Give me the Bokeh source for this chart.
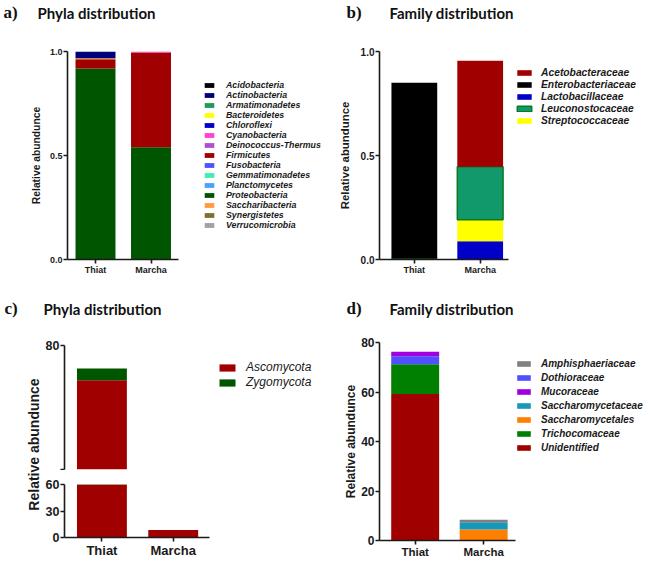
import math
from bokeh.plotting import figure
from bokeh.models import ColumnDataSource, Legend, LegendItem, FixedTicker, Label, Range1d
from bokeh.layouts import row, column
from bokeh.embed import file_html
from bokeh.resources import INLINE

samples = ["Thiat", "Marcha"]

# a) Phyla distribution (bacteria), relative abundance
phyla_a = ["Acidobacteria", "Actinobacteria", "Armatimonadetes", "Bacteroidetes", "Chloroflexi",
           "Cyanobacteria", "Deinococcus-Thermus", "Firmicutes", "Fusobacteria", "Gemmatimonadetes",
           "Planctomycetes", "Proteobacteria", "Saccharibacteria", "Synergistetes", "Verrucomicrobia"]
phyla_a_colors = ["#000000", "#00007a", "#1f9a5a", "#ffff00", "#0000c8",
                  "#ff40d0", "#b050d0", "#a00000", "#5050ff", "#40eeb0",
                  "#4ca0ff", "#005500", "#ff9a40", "#807030", "#a0a0a8"]
a_thiat = [0, 0.033, 0, 0, 0, 0, 0, 0.045, 0, 0, 0, 0.918, 0.004, 0, 0]
a_marcha = [0, 0, 0, 0, 0, 0.005, 0, 0.455, 0, 0, 0, 0.540, 0, 0, 0]
a_stack = ["Proteobacteria", "Firmicutes", "Saccharibacteria", "Cyanobacteria", "Actinobacteria",
           "Acidobacteria", "Armatimonadetes", "Bacteroidetes", "Chloroflexi", "Deinococcus-Thermus",
           "Fusobacteria", "Gemmatimonadetes", "Planctomycetes", "Synergistetes", "Verrucomicrobia"]

# b) Family distribution (bacteria)
fam_b = ["Acetobacteraceae", "Enterobacteriaceae", "Lactobacillaceae", "Leuconostocaceae", "Streptococcaceae"]
fam_b_colors = ["#a00000", "#000000", "#0000c8", "#12996b", "#ffff00"]
b_thiat = [0, 0.845, 0, 0, 0.005]
b_marcha = [0.510, 0, 0.088, 0.255, 0.103]
b_stack = ["Lactobacillaceae", "Streptococcaceae", "Leuconostocaceae", "Enterobacteriaceae", "Acetobacteraceae"]

# c) Phyla distribution (fungi), broken axis
phyla_c = ["Ascomycota", "Zygomycota"]
phyla_c_colors = ["#a00000", "#005500"]
c_thiat = [74.4, 1.9]
c_marcha = [8.4, 0]

# d) Family distribution (fungi)
fam_d = ["Amphisphaeriaceae", "Dothioraceae", "Mucoraceae", "Saccharomycetaceae",
         "Saccharomycetales", "Trichocomaceae", "Unidentified"]
fam_d_colors = ["#808080", "#5050ff", "#a000e0", "#1898b8", "#ff8000", "#008000", "#a00000"]
d_thiat = [0, 3.2, 1.9, 0, 0, 12.0, 59.2]
d_marcha = [1.0, 0, 0, 3.0, 4.4, 0, 0]
d_stack = ["Unidentified", "Saccharomycetales", "Trichocomaceae", "Saccharomycetaceae",
           "Dothioraceae", "Amphisphaeriaceae", "Mucoraceae"]

titles = [("a)", "Phyla distribution"), ("b)", "Family distribution"),
          ("c)", "Phyla distribution"), ("d)", "Family distribution")]
ylabel = "Relative abundunce"

FONT = "Liberation Sans"
TITLE_FONT = "Lato"
AX = "#1a1a1a"


def blank(w, h):
    p = figure(width=w, height=h, output_backend="svg", toolbar_location=None,
               x_axis_location=None, y_axis_location=None, min_border=0)
    p.outline_line_color = None
    p.grid.visible = False
    return p


def make_fig(w, h, left, right, top, bottom, xr, yr, xbounds, xaxis=True):
    p = figure(width=w, height=h, x_range=Range1d(*xr), y_range=Range1d(*yr),
               output_backend="svg", toolbar_location=None,
               x_axis_location="below" if xaxis else None,
               min_border_left=left, min_border_right=right,
               min_border_top=top, min_border_bottom=bottom)
    p.outline_line_color = None
    p.grid.visible = False
    for ax in p.axis:
        ax.axis_line_width = 1.6
        ax.axis_line_color = AX
        ax.major_tick_line_width = 1.6
        ax.major_tick_line_color = AX
        ax.major_tick_out = 4
        ax.major_tick_in = 0
        ax.minor_tick_line_color = None
        ax.major_label_text_font = FONT
        ax.major_label_text_font_style = "bold"
        ax.major_label_text_color = AX
        ax.axis_label_text_font = FONT
        ax.axis_label_text_font_style = "bold"
        ax.axis_label_text_color = AX
    if xaxis:
        p.xaxis.bounds = xbounds
    return p


def set_xaxis(p, size):
    xs = list(range(1, len(samples) + 1))
    p.xaxis.ticker = FixedTicker(ticks=xs)
    p.xaxis.major_label_overrides = {x: s for x, s in zip(xs, samples)}
    p.xaxis.major_label_text_font_size = size
    p.xaxis.major_label_standoff = 1


def draw_stack(p, names, colors, vals, order, width, edges=None, min_top=None):
    """Stacked bars; zero-height rows stay in the source (invisible) so legends keep a swatch."""
    xs = list(range(1, len(samples) + 1))
    base = [0.0] * len(samples)
    rends = {}
    for name in order:
        i = names.index(name)
        v = [vals[s][i] for s in range(len(samples))]
        keep = [k for k in range(len(samples))
                if min_top is None or (base[k] + v[k] > min_top and v[k] > 0)]
        src = ColumnDataSource(dict(x=[xs[k] for k in keep],
                                    bottom=[base[k] for k in keep],
                                    top=[base[k] + v[k] for k in keep]))
        lc = edges.get(name) if edges else None
        if lc:
            r = p.vbar(x="x", bottom="bottom", top="top", width=width, source=src,
                       fill_color=colors[i], line_color=lc, line_width=1.5)
        else:
            r = p.vbar(x="x", bottom="bottom", top="top", width=width, source=src,
                       fill_color=colors[i], line_color=None)
        rends[name] = r
        base = [base[k] + v[k] for k in range(len(samples))]
    return rends


def add_legend(p, names, rends, loc, size, style, gw, gh, standoff, spacing, lh):
    items = [LegendItem(label=n, renderers=[rends[n]]) for n in names]
    leg = Legend(items=items, location=loc, orientation="vertical",
                 background_fill_alpha=0, border_line_color=None, padding=0, margin=0,
                 spacing=spacing, glyph_width=gw, glyph_height=gh, label_standoff=standoff,
                 label_height=lh, label_text_font=FONT, label_text_font_style=style,
                 label_text_font_size=size, label_text_color=AX, label_text_baseline="middle")
    p.add_layout(leg, "center")


def add_title(p, letter, text, lx, tx, y):
    p.add_layout(Label(x=lx, y=y, x_units="screen", y_units="screen", text=letter,
                       text_font="Liberation Serif", text_font_style="bold",
                       text_font_size="17px", text_color="#111", text_baseline="middle"))
    p.add_layout(Label(x=tx, y=y, x_units="screen", y_units="screen", text=text,
                       text_font=TITLE_FONT, text_font_style="bold",
                       text_font_size="15px", text_color="#111", text_baseline="middle"))


# ---------- title strips ----------
t1 = blank(644, 30)
add_title(t1, titles[0][0], titles[0][1], 3, 37, 18)
add_title(t1, titles[1][0], titles[1][1], 346, 389, 18)
t2 = blank(644, 50)
add_title(t2, titles[2][0], titles[2][1], 4, 43, 22)
add_title(t2, titles[3][0], titles[3][1], 346, 389, 22)

# ---------- a ----------
fa = make_fig(330, 250, 67, 0, 21, 18, (0.4955, 5.234), (0, 1), (0.4955, 2.4955))
set_xaxis(fa, "9px")
fa.yaxis.ticker = FixedTicker(ticks=[0, 0.5, 1.0])
fa.yaxis.major_label_overrides = {0: "0.0", 0.5: "0.5", 1: "1.0"}
fa.yaxis.major_label_text_font_size = "9px"
fa.yaxis.major_label_standoff = 1
fa.yaxis.axis_label = ylabel
fa.yaxis.axis_label_text_font_size = "10.3px"
fa.yaxis.axis_label_standoff = 5
ra = draw_stack(fa, phyla_a, phyla_a_colors, [a_thiat, a_marcha], a_stack, 0.72)
add_legend(fa, phyla_a, ra, (136, 29), "8.8px", "bold italic", 12, 6, 11, 0, 10)

# ---------- b ----------
fb = make_fig(314, 250, 49, 0, 13, 21, (0.471, 4.495), (0, 1), (0.471, 2.43))
set_xaxis(fb, "9px")
fb.yaxis.ticker = FixedTicker(ticks=[0, 0.5, 1.0])
fb.yaxis.major_label_overrides = {0: "0.0", 0.5: "0.5", 1: "1.0"}
fb.yaxis.major_label_text_font_size = "10px"
fb.yaxis.major_label_standoff = 1
fb.yaxis.axis_label = ylabel
fb.yaxis.axis_label_text_font_size = "11.4px"
fb.yaxis.axis_label_standoff = 7
rb = draw_stack(fb, fam_b, fam_b_colors, [b_thiat, b_marcha], b_stack, 0.695,
                edges={"Leuconostocaceae": "#0b7a1f"})
add_legend(fb, fam_b, rb, (136, 133), "10.3px", "bold italic", 18, 7, 8, 1, 11)

# ---------- c (broken axis) ----------
fc_lab = blank(40, 230)
fc_lab.add_layout(Label(x=33, y=116, x_units="screen", y_units="screen",
                        text=ylabel, angle=math.pi / 2,
                        text_font=FONT, text_font_style="bold", text_font_size="14px",
                        text_color=AX, text_align="center", text_baseline="middle"))

fcu = make_fig(290, 140, 24, 0, 15, 1, (0.475, 4.206), (60, 80), None, xaxis=False)
fcu.yaxis.ticker = FixedTicker(ticks=[60, 80])
fcu.yaxis.major_label_overrides = {60: ""}
fcu.yaxis.major_label_text_font_size = "12.5px"
fcu.yaxis.major_label_standoff = 1
rcu = draw_stack(fcu, phyla_c, phyla_c_colors, [c_thiat, c_marcha], phyla_c, 0.70, min_top=60)
add_legend(fcu, phyla_c, rcu, (153, 80), "12px", "italic", 20, 9, 9, 1, 14)

fcl = make_fig(290, 90, 24, 0, 14, 16, (0.475, 4.206), (0, 60), (0.475, 2.509))
set_xaxis(fcl, "13px")
fcl.yaxis.ticker = FixedTicker(ticks=[0, 30, 60])
fcl.yaxis.major_label_text_font_size = "12.5px"
fcl.yaxis.major_label_standoff = 1
draw_stack(fcl, phyla_c, phyla_c_colors, [c_thiat, c_marcha], phyla_c, 0.70)

panel_c = row(fc_lab, column(fcu, fcl))

# ---------- d ----------
fd = make_fig(314, 230, 49, 0, 12, 18, (0.479, 4.348), (0, 80), (0.479, 2.464))
set_xaxis(fd, "11.5px")
fd.yaxis.ticker = FixedTicker(ticks=[0, 20, 40, 60, 80])
fd.yaxis.major_label_text_font_size = "12px"
fd.yaxis.major_label_standoff = 1
fd.yaxis.axis_label = ylabel
fd.yaxis.axis_label_text_font_size = "12px"
fd.yaxis.axis_label_standoff = 0
rd = draw_stack(fd, fam_d, fam_d_colors, [d_thiat, d_marcha], d_stack, 0.70)
add_legend(fd, fam_d, rd, (136, 87), "10px", "bold italic", 17, 7, 9, 2, 12)

layout = column(t1, row(fa, fb), t2, row(panel_c, fd))
open("out.html", "w").write(file_html(layout, INLINE))
